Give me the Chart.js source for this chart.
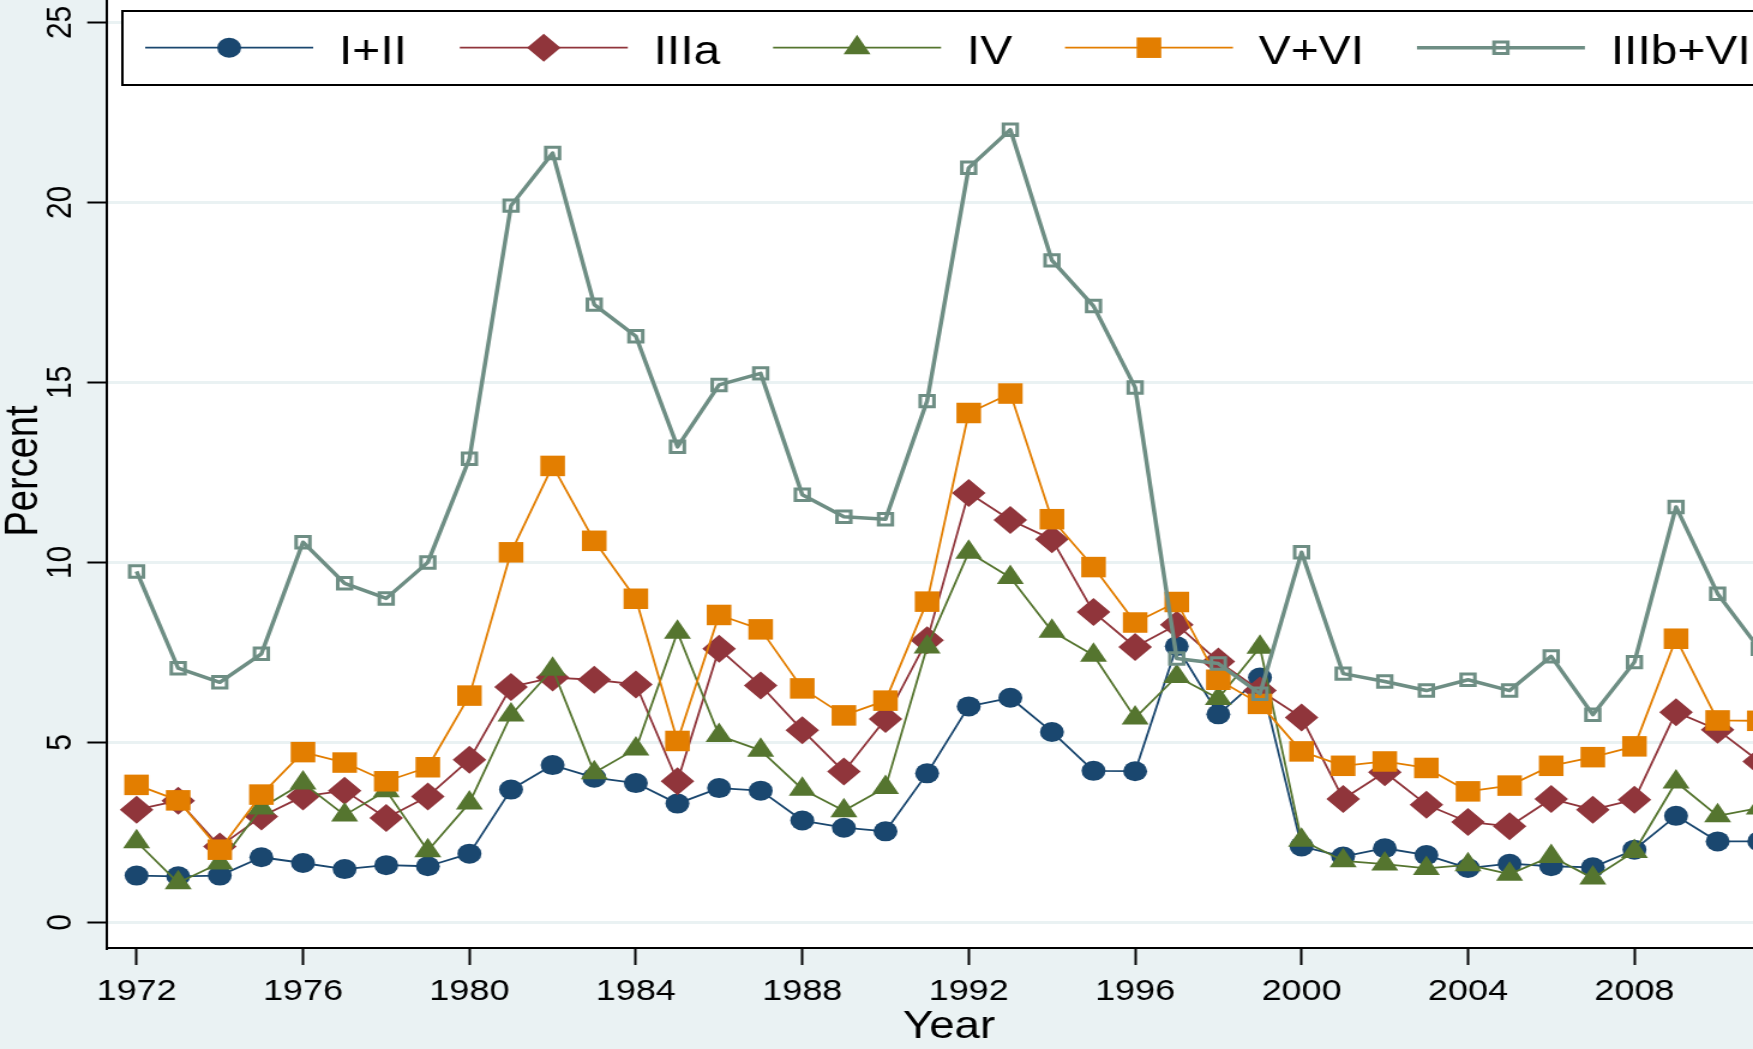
<!DOCTYPE html>
<html>
<head>
<meta charset="utf-8">
<title>Percent by year</title>
<script src="https://cdn.jsdelivr.net/npm/chart.js@4.4.1/dist/chart.umd.min.js"></script>
<style>
  html, body { margin: 0; padding: 0; background: #eaf2f3; overflow: hidden; }
  /* the original graph is stretched sideways, so draw narrow and widen it */
  #wrap { width: 1461px; height: 1049px; transform: scaleX(1.19986); transform-origin: 0 0; }
  canvas { display: block; }
</style>
</head>
<body>
<div id="wrap"><canvas id="myChart" width="1461" height="1049"></canvas></div>
<script>
"use strict";

let years = [1972, 1973, 1974, 1975, 1976, 1977, 1978, 1979, 1980, 1981,
  1982, 1983, 1984, 1985, 1986, 1987, 1988, 1989, 1990, 1991,
  1992, 1993, 1994, 1995, 1996, 1997, 1998, 1999, 2000, 2001,
  2002, 2003, 2004, 2005, 2006, 2007, 2008, 2009, 2010, 2011];

let classI_II = [1.30, 1.28, 1.30, 1.81, 1.65, 1.48, 1.59, 1.56, 1.91, 3.69,
  4.37, 4.02, 3.87, 3.30, 3.73, 3.66, 2.83, 2.63, 2.53, 4.14,
  6.00, 6.24, 5.29, 4.21, 4.20, 7.67, 5.78, 6.80, 2.11, 1.83,
  2.06, 1.87, 1.51, 1.63, 1.56, 1.53, 2.02, 2.96, 2.25, 2.25];

let classIIIa = [3.13, 3.38, 2.11, 2.94, 3.50, 3.66, 2.90, 3.50, 4.52, 6.54,
  6.80, 6.74, 6.61, 3.92, 7.60, 6.58, 5.34, 4.19, 5.65, 7.84,
  11.93, 11.18, 10.64, 8.62, 7.65, 8.27, 7.25, 6.44, 5.69, 3.43,
  4.17, 3.27, 2.79, 2.67, 3.43, 3.13, 3.41, 5.84, 5.35, 4.47];

let classIV = [2.24, 1.10, 1.65, 3.18, 3.87, 2.98, 3.66, 1.99, 3.32, 5.76,
  7.03, 4.16, 4.82, 8.06, 5.19, 4.78, 3.70, 3.10, 3.75, 7.65,
  10.28, 9.58, 8.09, 7.42, 5.68, 6.83, 6.22, 7.64, 2.28, 1.71,
  1.62, 1.50, 1.60, 1.34, 1.83, 1.23, 1.97, 3.90, 2.96, 3.18];

let classV_VI = [3.82, 3.39, 2.02, 3.55, 4.73, 4.44, 3.92, 4.31, 6.30, 10.28,
  12.68, 10.60, 8.99, 5.04, 8.54, 8.14, 6.50, 5.75, 6.16, 8.91,
  14.15, 14.69, 11.20, 9.87, 8.33, 8.90, 6.74, 6.07, 4.75, 4.35,
  4.47, 4.29, 3.64, 3.80, 4.35, 4.59, 4.89, 7.88, 5.61, 5.60];

let classIIIb_VI = [9.75, 7.06, 6.67, 7.46, 10.56, 9.42, 9.00, 10.00, 12.88, 19.91,
  21.37, 17.16, 16.28, 13.21, 14.93, 15.25, 11.88, 11.27, 11.20, 14.48,
  20.96, 22.02, 18.39, 17.12, 14.86, 7.33, 7.19, 6.35, 10.28, 6.91,
  6.69, 6.44, 6.74, 6.44, 7.39, 5.77, 7.23, 11.54, 9.13, 7.60];

let xTickValues = [1972, 1976, 1980, 1984, 1988, 1992, 1996, 2000, 2004, 2008];
let yTickValues = [0, 5, 10, 15, 20, 25];

const bgColor = '#eaf2f3';
const fontFamily = '"Liberation Sans", Arial, Helvetica, sans-serif';

function toPoints(values) {
  let pts = [];
  for (let i = 0; i < years.length; i++) {
    pts.push({ x: years[i], y: values[i] });
  }
  return pts;
}

function makeSeries(label, values, color, style, radius, lineWidth, hollow, order) {
  return {
    label: label,
    data: toPoints(values),
    borderColor: color,
    backgroundColor: color,
    borderWidth: lineWidth,
    pointStyle: style,
    pointRadius: radius,
    pointBackgroundColor: hollow ? 'rgba(0,0,0,0)' : color,
    pointBorderColor: color,
    pointBorderWidth: hollow ? 3 : 0,
    tension: 0,
    borderJoinStyle: 'round',
    clip: false,
    order: order
  };
}

let datasets = [
  makeSeries('I+II', classI_II, '#1a476f', 'circle', 10, 1.8, false, 5),
  makeSeries('IIIa', classIIIa, '#90353b', 'rectRot', 14, 1.8, false, 4),
  makeSeries('IV', classIV, '#55752f', 'triangle', 13, 1.8, false, 3),
  makeSeries('V+VI', classV_VI, '#e37e00', 'rect', 14.5, 1.8, false, 2),
  makeSeries('IIIb+VI', classIIIb_VI, '#6e8e84', 'rect', 8.1, 3.5, true, 1)
];

// background, hand drawn labels and the boxed legend
let stataLook = {
  id: 'stataLook',
  beforeDraw(chart) {
    let ctx = chart.ctx;
    let a = chart.chartArea;
    ctx.save();
    ctx.fillStyle = bgColor;
    ctx.fillRect(0, 0, chart.width, chart.height);
    ctx.fillStyle = '#ffffff';
    ctx.fillRect(a.left, 0, chart.width - a.left, a.bottom);
    ctx.restore();
  },
  afterDraw(chart) {
    let ctx = chart.ctx;
    let xs = chart.scales.x;
    let ys = chart.scales.y;
    ctx.save();
    ctx.fillStyle = '#000';

    ctx.font = '30px ' + fontFamily;
    ctx.textAlign = 'center';
    ctx.textBaseline = 'alphabetic';
    xTickValues.forEach(v => {
      ctx.fillText(String(v), xs.getPixelForValue(v), 1000);
    });
    yTickValues.forEach(v => {
      ctx.save();
      ctx.translate(59, ys.getPixelForValue(v));
      ctx.rotate(-Math.PI / 2);
      ctx.fillText(String(v), 0, 0);
      ctx.restore();
    });

    ctx.font = '38px ' + fontFamily;
    ctx.fillText('Year', 791, 1038);
    ctx.save();
    ctx.translate(31, 471);
    ctx.rotate(-Math.PI / 2);
    ctx.fillText('Percent', 0, 0);
    ctx.restore();

    // legend box runs off the right edge like the original
    ctx.fillStyle = '#fff';
    ctx.fillRect(102, 11, 2000, 74);
    ctx.strokeStyle = '#000';
    ctx.lineWidth = 2;
    ctx.strokeRect(102, 11, 2000, 74);

    let x = 121;
    let keyY = 47.7;
    ctx.font = '40px ' + fontFamily;
    ctx.textAlign = 'left';
    chart.data.datasets.forEach(ds => {
      ctx.strokeStyle = ds.borderColor;
      ctx.lineWidth = ds.borderWidth;
      ctx.beginPath();
      ctx.moveTo(x, keyY);
      ctx.lineTo(x + 140, keyY);
      ctx.stroke();

      ctx.fillStyle = ds.pointBackgroundColor;
      ctx.strokeStyle = ds.pointBorderColor;
      ctx.lineWidth = ds.pointBorderWidth;
      Chart.helpers.drawPoint(ctx, {
        pointStyle: ds.pointStyle,
        radius: ds.pointRadius,
        rotation: 0,
        borderWidth: ds.pointBorderWidth
      }, x + 70, keyY);

      ctx.fillStyle = '#000';
      ctx.fillText(ds.label, x + 161.5, 63.5);
      x = x + 161.5 + ctx.measureText(ds.label).width + 44;
    });
    ctx.restore();
  }
};

let ctx = document.getElementById('myChart').getContext('2d');
let myChart = new Chart(ctx, {
  type: 'line',
  data: { datasets: datasets },
  plugins: [stataLook],
  options: {
    responsive: false,
    animation: false,
    events: [],
    layout: { padding: 0, autoPadding: false },
    plugins: {
      legend: { display: false },
      tooltip: { enabled: false }
    },
    scales: {
      x: {
        type: 'linear',
        min: 1971.29,
        max: 2010.85,
        afterBuildTicks: function (scale) {
          scale.ticks = xTickValues.map(v => ({ value: v }));
        },
        afterFit: function (scale) {
          scale.height = 101;
        },
        ticks: { display: false },
        grid: {
          drawOnChartArea: false,
          drawTicks: true,
          tickLength: 17,
          tickColor: '#000',
          tickWidth: 2
        },
        border: { display: true, color: '#000', width: 2 }
      },
      y: {
        type: 'linear',
        min: -0.711,
        max: 25.622,
        afterBuildTicks: function (scale) {
          scale.ticks = yTickValues.map(v => ({ value: v }));
        },
        afterFit: function (scale) {
          scale.width = 89.2;
        },
        ticks: { display: false },
        grid: {
          color: bgColor,
          lineWidth: 3,
          drawTicks: true,
          tickLength: 16.5,
          tickColor: '#000',
          tickWidth: 2
        },
        border: { display: true, color: '#000', width: 2 }
      }
    }
  }
});
</script>
</body>
</html>
